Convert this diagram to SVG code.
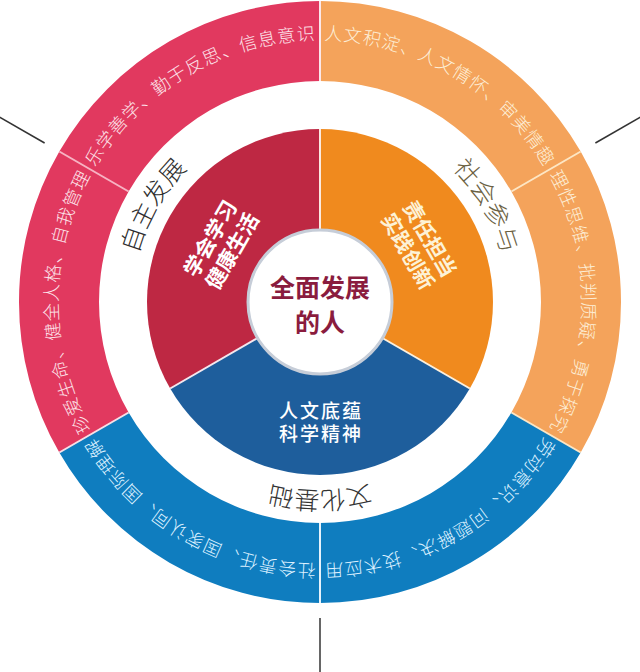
<svg xmlns="http://www.w3.org/2000/svg" xmlns:xlink="http://www.w3.org/1999/xlink" width="640" height="672" viewBox="0 0 640 672">
<style>
.cjk{font-family:"Noto Sans CJK SC","Noto Sans",sans-serif;}
.outer{font-size:18px;font-weight:300;letter-spacing:1px;}
.ring{font-size:25px;font-weight:300;}
.inner{font-size:21px;font-weight:700;}
.div{stroke-width:2;fill:none;}
.tick{stroke:#333;stroke-width:1.5;fill:none;}
</style>
<defs>
<path id="a1" d="M93.1,171 A262,262 0 0 1 320,40"/>
<path id="a2" d="M93.1,433 A262,262 0 0 1 93.1,171"/>
<path id="a3" d="M320,40 A262,262 0 0 1 546.9,171"/>
<path id="a4" d="M546.9,171 A262,262 0 0 1 546.9,433"/>
<path id="a5" d="M546.9,433 A262,262 0 0 1 320,564"/>
<path id="a6" d="M320,564 A262,262 0 0 1 93.1,433"/>
<path id="r1" d="M134.9,334.6 A188,188 0 0 1 255.7,125.3"/>
<path id="r2" d="M384.3,125.3 A188,188 0 0 1 505.1,334.6"/>
<path id="r3" d="M441.6,447 A189,189 0 0 1 198.4,447"/>
</defs>
<rect width="640" height="672" fill="#ffffff"/>

<g id="outer-red">
<path d="M59.32,452.5 A301,301 0 0 1 320,1 L320,81 A221,221 0 0 0 128.61,412.5 Z" fill="#e1395f"/>
<text class="cjk outer" fill="#fde3ea"><textPath xlink:href="#a1" href="#a1" startOffset="50%" text-anchor="middle">乐学善学、勤于反思、信息意识</textPath></text>
<text class="cjk outer" fill="#fde3ea"><textPath xlink:href="#a2" href="#a2" startOffset="50%" text-anchor="middle">珍爱生命、健全人格、自我管理</textPath></text>
</g>
<g id="outer-orange">
<path d="M320,1 A301,301 0 0 1 580.68,452.5 L511.39,412.5 A221,221 0 0 0 320,81 Z" fill="#f4a35b"/>
<text class="cjk outer" fill="#fdeed6"><textPath xlink:href="#a3" href="#a3" startOffset="50%" text-anchor="middle">人文积淀、人文情怀、审美情趣</textPath></text>
<text class="cjk outer" fill="#fdeed6"><textPath xlink:href="#a4" href="#a4" startOffset="50%" text-anchor="middle">理性思维、批判质疑、勇于探究</textPath></text>
</g>
<g id="outer-blue">
<path d="M580.68,452.5 A301,301 0 0 1 59.32,452.5 L128.61,412.5 A221,221 0 0 0 511.39,412.5 Z" fill="#0f7dbf"/>
<text class="cjk outer" fill="#dff2ff"><textPath xlink:href="#a5" href="#a5" startOffset="50%" text-anchor="middle">劳动意识、问题解决、技术应用</textPath></text>
<text class="cjk outer" fill="#dff2ff"><textPath xlink:href="#a6" href="#a6" startOffset="50%" text-anchor="middle">社会责任、国家认同、国际理解</textPath></text>
</g>

<g id="ring-labels">
<text class="cjk ring" fill="#2e2e2e"><textPath xlink:href="#r1" href="#r1" startOffset="50%" text-anchor="middle">自主发展</textPath></text>
<text class="cjk ring" fill="#6b6142"><textPath xlink:href="#r2" href="#r2" startOffset="50%" text-anchor="middle">社会参与</textPath></text>
<text class="cjk ring" fill="#333333"><textPath xlink:href="#r3" href="#r3" startOffset="50%" text-anchor="middle">文化基础</textPath></text>
</g>

<g id="pie-red">
<path d="M320,302 L170.18,388.5 A173,173 0 0 1 320,129 Z" fill="#be2843"/>
<text class="cjk inner" fill="#ffffff" text-anchor="middle" transform="translate(210,238.5) rotate(-60)" y="8">学会学习</text>
<text class="cjk inner" fill="#ffffff" text-anchor="middle" transform="translate(231.7,251) rotate(-60)" y="8">健康生活</text>
</g>
<g id="pie-orange">
<path d="M320,302 L320,129 A173,173 0 0 1 469.82,388.5 Z" fill="#f08a1e"/>
<text class="cjk inner" fill="#fdf2d6" text-anchor="middle" transform="translate(430,238.5) rotate(60)" y="8">责任担当</text>
<text class="cjk inner" fill="#fdf2d6" text-anchor="middle" transform="translate(408.3,251) rotate(60)" y="8">实践创新</text>
</g>
<g id="pie-blue">
<path d="M320,302 L469.82,388.5 A173,173 0 0 1 170.18,388.5 Z" fill="#1e5e9c"/>
<text class="cjk" fill="#ffffff" font-size="19" font-weight="500" letter-spacing="2" text-anchor="middle" x="321" y="418">人文底蕴</text>
<text class="cjk" fill="#ffffff" font-size="19" font-weight="500" letter-spacing="2" text-anchor="middle" x="321" y="441">科学精神</text>
</g>

<g id="connectors">
<line class="div" stroke="#f7b3c3" x1="128.61" y1="191.5" x2="59.32" y2="151.5"/>
<line class="div" stroke="#fde6c4" x1="511.39" y1="191.5" x2="580.68" y2="151.5"/>
<line class="div" stroke="#e6f2fb" x1="320" y1="523" x2="320" y2="603"/>
<line class="div" stroke="#fbe7ea" x1="320" y1="81" x2="320" y2="1"/>
<line class="div" stroke="#fde6c4" x1="511.39" y1="412.5" x2="580.68" y2="452.5"/>
<line class="div" stroke="#f7e0e6" x1="128.61" y1="412.5" x2="59.32" y2="452.5"/>
<line class="div" stroke="#fbe9e0" x1="320" y1="302" x2="320" y2="129"/>
<line class="div" stroke="#fdf0dc" x1="320" y1="302" x2="469.82" y2="388.5"/>
<line class="div" stroke="#f4e8ee" x1="320" y1="302" x2="170.18" y2="388.5"/>
<line class="tick" x1="44.6" y1="143" x2="-2.2" y2="116"/>
<line class="tick" x1="595.4" y1="143" x2="642.2" y2="116"/>
<line class="tick" x1="320" y1="618" x2="320" y2="672"/>
</g>

<g id="center">
<circle cx="320" cy="302" r="72" fill="#ffffff" stroke="#c6cdd8" stroke-width="3"/>
<text class="cjk" fill="#8a1c3e" font-size="25" font-weight="700" text-anchor="middle" x="320" y="297">全面发展</text>
<text class="cjk" fill="#8a1c3e" font-size="25" font-weight="700" text-anchor="middle" x="320" y="332">的人</text>
</g>
</svg>
